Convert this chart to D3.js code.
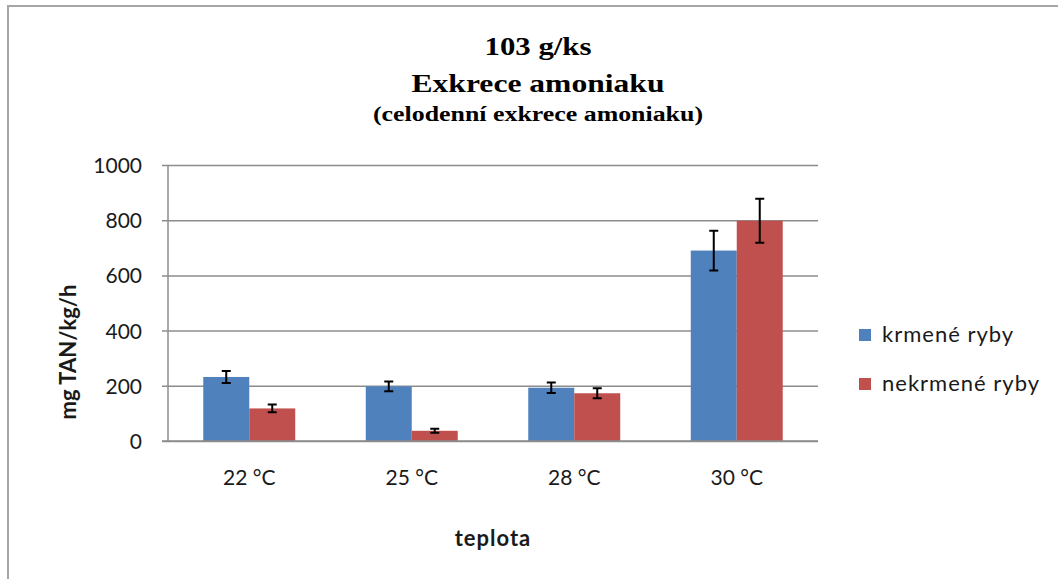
<!DOCTYPE html>
<html>
<head>
<meta charset="utf-8">
<script src="https://cdn.jsdelivr.net/npm/d3@7"></script>
<style>
  html, body { margin: 0; padding: 0; background: #fff; }
  svg { display: block; }
</style>
</head>
<body>
<svg id="chart" width="1058" height="579"></svg>
<script>
// Categories (water temperature) and the two feeding groups
const categories = ["22 °C", "25 °C", "28 °C", "30 °C"];
const seriesNames = ["krmené ryby", "nekrmené ryby"];
const fedValues = [232, 198, 193, 690];
const fedErrors = [22, 18, 19, 72];
const unfedValues = [118, 37, 173, 798];
const unfedErrors = [14, 7, 18, 80];
const yTicks = [0, 200, 400, 600, 800, 1000];
const colors = ["#4f81bd", "#c0504d"];

const series = [
  { name: seriesNames[0], values: fedValues, errors: fedErrors },
  { name: seriesNames[1], values: unfedValues, errors: unfedErrors }
];

const svg = d3.select("#chart");
const sans = "Lato, 'Open Sans', 'Liberation Sans', sans-serif";
const serif = "'Liberation Serif', 'DejaVu Serif', serif";

// Outer chart frame
svg.append("rect")
  .attr("x", 8).attr("y", 6)
  .attr("width", 1070).attr("height", 600)
  .attr("fill", "#fff")
  .attr("stroke", "#a6a6a6").attr("stroke-width", 2);

// Plot area
const plot = { left: 168, right: 818, top: 165, bottom: 441 };

const y = d3.scaleLinear().domain([0, 1000]).range([plot.bottom, plot.top]);
const x0 = d3.scaleBand()
  .domain(categories)
  .range([plot.left, plot.right])
  .paddingInner(0.434)
  .paddingOuter(0.217);
const x1 = d3.scaleBand()
  .domain(seriesNames)
  .range([0, x0.bandwidth()])
  .padding(0);

// Horizontal gridlines and y axis
const yAxis = d3.axisLeft(y)
  .tickValues(yTicks)
  .tickSize(-(plot.right - plot.left))
  .tickPadding(26)
  .tickFormat(d3.format("d"));

const gy = svg.append("g")
  .attr("transform", `translate(${plot.left},0)`)
  .call(yAxis);
gy.select(".domain").remove();
gy.selectAll(".tick line")
  .attr("x1", -6)
  .attr("stroke", "#8c8c8c")
  .attr("stroke-width", 1.5);
gy.selectAll(".tick text")
  .attr("font-family", sans)
  .attr("font-size", 21)
  .attr("fill", "#1a1a1a")
  .attr("dy", "0.36em");

// Vertical axis line
svg.append("line")
  .attr("x1", plot.left).attr("x2", plot.left)
  .attr("y1", plot.top).attr("y2", plot.bottom)
  .attr("stroke", "#8c8c8c").attr("stroke-width", 1.5);

// Category axis labels
const xAxis = d3.axisBottom(x0).tickSize(0).tickPadding(40);
const gx = svg.append("g")
  .attr("transform", `translate(0,${plot.bottom})`)
  .call(xAxis);
gx.select(".domain").remove();
gx.selectAll(".tick text")
  .attr("font-family", sans)
  .attr("font-size", 21)
  .attr("fill", "#1a1a1a")
  .attr("dy", "0.2em");

// Bars
const groups = svg.append("g").selectAll("g")
  .data(series)
  .join("g")
  .attr("fill", (d, i) => colors[i]);

groups.selectAll("rect")
  .data(s => s.values.map((v, i) => ({ cat: categories[i], v, s: s.name })))
  .join("rect")
  .attr("x", d => x0(d.cat) + x1(d.s))
  .attr("y", d => y(d.v))
  .attr("width", x1.bandwidth())
  .attr("height", d => y(0) - y(d.v));

// Error bars
const errData = [];
series.forEach(s => s.values.forEach((v, i) => {
  errData.push({ cx: x0(categories[i]) + x1(s.name) + x1.bandwidth() / 2, v, e: s.errors[i] });
}));
const eb = svg.append("g").attr("stroke", "#000").attr("stroke-width", 2).attr("fill", "none");
eb.selectAll("path")
  .data(errData)
  .join("path")
  .attr("d", d => {
    const t = y(d.v + d.e), b = y(d.v - d.e), c = 4.5;
    return `M${d.cx - c},${t}H${d.cx + c}M${d.cx},${t}V${b}M${d.cx - c},${b}H${d.cx + c}`;
  });

// Baseline on top of bars
svg.append("line")
  .attr("x1", plot.left - 6).attr("x2", plot.right)
  .attr("y1", plot.bottom).attr("y2", plot.bottom)
  .attr("stroke", "#8c8c8c").attr("stroke-width", 1.5);

// Titles
const cx = 538;
svg.append("text")
  .attr("x", cx).attr("y", 55)
  .attr("text-anchor", "middle")
  .attr("font-family", serif).attr("font-weight", "bold").attr("font-size", 26)
  .attr("textLength", 107).attr("lengthAdjust", "spacingAndGlyphs")
  .text("103 g/ks");
svg.append("text")
  .attr("x", cx).attr("y", 92)
  .attr("text-anchor", "middle")
  .attr("font-family", serif).attr("font-weight", "bold").attr("font-size", 26)
  .attr("textLength", 253).attr("lengthAdjust", "spacingAndGlyphs")
  .text("Exkrece amoniaku");
svg.append("text")
  .attr("x", cx).attr("y", 121)
  .attr("text-anchor", "middle")
  .attr("font-family", serif).attr("font-weight", "bold").attr("font-size", 20)
  .attr("textLength", 330).attr("lengthAdjust", "spacingAndGlyphs")
  .text("(celodenní exkrece amoniaku)");

// Axis titles
svg.append("text")
  .attr("transform", "translate(76,352) rotate(-90)")
  .attr("text-anchor", "middle")
  .attr("font-family", sans).attr("font-weight", "bold").attr("font-size", 22)
  .attr("fill", "#1a1a1a")
  .text("mg TAN/kg/h");
svg.append("text")
  .attr("x", 493).attr("y", 546)
  .attr("text-anchor", "middle")
  .attr("font-family", sans).attr("font-weight", "bold").attr("font-size", 22)
  .attr("letter-spacing", 1)
  .attr("fill", "#1a1a1a")
  .text("teplota");

// Legend
const legend = svg.append("g").selectAll("g")
  .data(seriesNames)
  .join("g")
  .attr("transform", (d, i) => `translate(859,${329 + i * 49})`);
legend.append("rect")
  .attr("width", 12).attr("height", 12)
  .attr("fill", (d, i) => colors[i]);
legend.append("text")
  .attr("x", 23).attr("y", 13)
  .attr("font-family", sans).attr("font-size", 22)
  .attr("letter-spacing", 1)
  .attr("fill", "#1a1a1a")
  .text(d => d);
</script>
</body>
</html>
